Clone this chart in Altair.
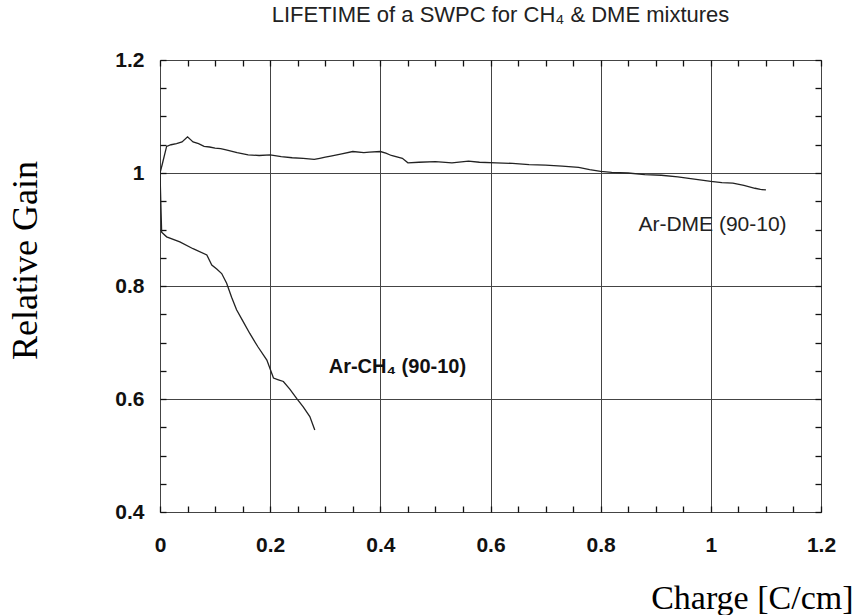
import altair as alt
import pandas as pd

# ---- data ----
dme_x = [0.0, 0.004, 0.012, 0.02, 0.03, 0.04, 0.05, 0.06, 0.07, 0.08, 0.09, 0.10, 0.11, 0.12,
         0.14, 0.16, 0.18, 0.20, 0.22, 0.24, 0.26, 0.28, 0.29, 0.30, 0.31, 0.33, 0.35, 0.37,
         0.38, 0.40, 0.41, 0.42, 0.44, 0.45, 0.47, 0.50, 0.53, 0.56, 0.58, 0.61, 0.64, 0.67,
         0.70, 0.73, 0.76, 0.78, 0.80, 0.82, 0.85, 0.88, 0.91, 0.94, 0.97, 1.00, 1.02, 1.04,
         1.06, 1.08, 1.09, 1.10]
dme_y = [1.000, 1.015, 1.047, 1.050, 1.052, 1.055, 1.064, 1.055, 1.052, 1.047, 1.046, 1.044,
         1.043, 1.041, 1.036, 1.032, 1.031, 1.032, 1.029, 1.027, 1.026, 1.024, 1.026, 1.028,
         1.030, 1.034, 1.038, 1.036, 1.037, 1.038, 1.035, 1.031, 1.026, 1.018, 1.019, 1.020,
         1.018, 1.021, 1.019, 1.018, 1.017, 1.015, 1.014, 1.012, 1.010, 1.006, 1.003, 1.001,
         1.000, 0.997, 0.996, 0.993, 0.989, 0.985, 0.983, 0.982, 0.978, 0.973, 0.971, 0.970]

ch4_x = [0.0, 0.003, 0.012, 0.036, 0.06, 0.085, 0.094, 0.103, 0.112, 0.121, 0.13, 0.139,
         0.151, 0.163, 0.178, 0.194, 0.206, 0.215, 0.224, 0.236, 0.248, 0.26, 0.272, 0.281]
ch4_y = [1.0, 0.895, 0.887, 0.878, 0.866, 0.855, 0.837, 0.830, 0.822, 0.805, 0.780, 0.758,
         0.737, 0.716, 0.692, 0.669, 0.637, 0.634, 0.631, 0.617, 0.601, 0.586, 0.569, 0.545]

# tick values: every 0.05, labels/grid only on the multiples of 0.2
x_ticks = [round(0.05 * i, 2) for i in range(0, 25)]
y_ticks = [round(0.4 + 0.05 * i, 2) for i in range(0, 17)]

label_text = ["Ar-CH\u2084 (90-10)", "Ar-DME (90-10)"]
label_x = [0.431, 1.003]
label_y = [0.657, 0.908]
label_weight = ["bold", "normal"]

title_text = "LIFETIME of a SWPC for CH\u2084 & DME mixtures"
x_title = "Charge [C/cm]"
y_title = "Relative Gain"

# ---- tables ----
lines = pd.concat([
    pd.DataFrame({"x": dme_x, "y": dme_y, "s": "DME", "o": range(len(dme_x))}),
    pd.DataFrame({"x": ch4_x, "y": ch4_y, "s": "CH4", "o": range(len(ch4_x))}),
])
labels = pd.DataFrame({"t": label_text, "x": label_x, "y": label_y, "w": label_weight})

xs = alt.Scale(domain=[0, 1.2], nice=False, zero=False)
ys = alt.Scale(domain=[0.4, 1.2], nice=False, zero=False)

MAJOR = "abs(datum.value * 5 - round(datum.value * 5)) < 0.001"
COMMON = dict(
    labelFont="Liberation Sans", labelFontWeight="bold", labelFontSize=21, labelColor="#111",
    labelExpr=f"{MAJOR} ? format(datum.value, '~g') : ''", labelFlush=False, labelOverlap=False,
    grid=True, gridColor="#444", gridWidth=1,
    gridOpacity={"condition": {"test": MAJOR, "value": 1}, "value": 0},
    ticks=True, tickSize=6, tickColor="#111", tickWidth=1.3, offset=-6, domain=False,
)

main = alt.Chart(lines).mark_line(color="#222", strokeWidth=1.3, clip=True).encode(
    x=alt.X("x:Q", scale=xs, axis=alt.Axis(
        orient="bottom", values=x_ticks, labelPadding=22,
        title=x_title, titleFont="Liberation Serif", titleFontSize=34, titleFontWeight="normal",
        titleColor="#000", titleAlign="right", titleBaseline="alphabetic", titleX=693, titleY=102,
        **COMMON)),
    y=alt.Y("y:Q", scale=ys, axis=alt.Axis(
        orient="left", values=y_ticks, labelPadding=16,
        title=y_title, titleFont="Liberation Serif", titleFontSize=36, titleFontWeight="normal",
        titleColor="#000", titleAngle=-90, titleAlign="center", titleBaseline="middle",
        titleX=-141, titleY=200, **COMMON)),
    detail="s:N", order="o:Q",
)

minor = alt.Chart(lines).mark_point(opacity=0).encode(
    x=alt.X("x:Q", scale=xs, axis=alt.Axis(
        orient="top", values=x_ticks, grid=False, domain=False, labels=False,
        ticks=True, tickSize=6, tickColor="#111", tickWidth=1.3, offset=-6, title=None)),
    y=alt.Y("y:Q", scale=ys, axis=alt.Axis(
        orient="right", values=y_ticks, grid=False, domain=False, labels=False,
        ticks=True, tickSize=6, tickColor="#111", tickWidth=1.3, offset=-6, title=None)),
)

text_b = alt.Chart(labels).transform_filter("datum.w == 'bold'").mark_text(
    font="Liberation Sans", fontSize=20, fontWeight="bold", color="#111").encode(
    x=alt.X("x:Q", scale=xs, axis=None), y=alt.Y("y:Q", scale=ys, axis=None), text="t:N")
text_n = alt.Chart(labels).transform_filter("datum.w == 'normal'").mark_text(
    font="Liberation Sans", fontSize=21, fontWeight="normal", color="#222").encode(
    x=alt.X("x:Q", scale=xs, axis=None), y=alt.Y("y:Q", scale=ys, axis=None), text="t:N")

chart = alt.layer(main, minor, text_b, text_n).resolve_axis(
    x="independent", y="independent"
).properties(
    width=661, height=452,
    title=alt.TitleParams(title_text, anchor="middle", frame="group", font="Liberation Sans",
                          fontSize=22, fontWeight="normal", color="#222", offset=22, dx=10),
    autosize=alt.AutoSizeParams(type="none"),
    padding={"left": 160, "top": 60, "right": 38, "bottom": 103},
).configure_view(stroke="#111", strokeWidth=1.5).configure(background="white")

chart.save("out.html", embed_options={"renderer": "svg", "actions": False})
